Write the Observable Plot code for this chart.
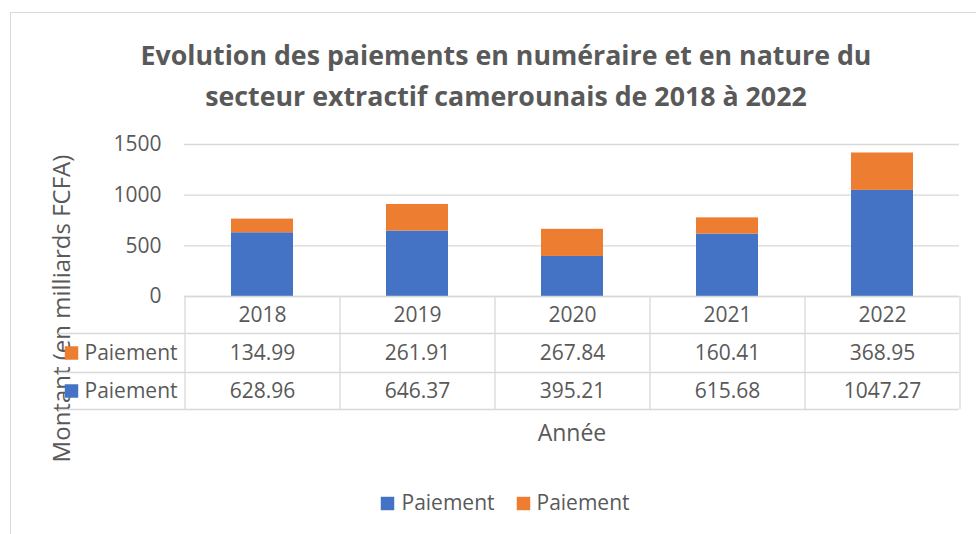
<!DOCTYPE html>
<html><head><meta charset="utf-8">
<script src="https://cdn.jsdelivr.net/npm/d3@7"></script>
<script src="https://cdn.jsdelivr.net/npm/@observablehq/plot@0.6"></script>
<style>
body{margin:0;background:#fff;}
#wrap{position:relative;width:976px;height:534px;overflow:hidden;}
#frame{position:absolute;left:10px;top:12px;width:1100px;height:700px;border-left:1px solid #d9d9d9;border-top:1px solid #d9d9d9;}
#chart{position:absolute;left:0;top:0;}
</style></head><body>
<div id="wrap"><div id="frame"></div><div id="chart"></div></div>
<script>
const years = ["2018", "2019", "2020", "2021", "2022"];
const numeraire = [628.96, 646.37, 395.21, 615.68, 1047.27];
const nature = [134.99, 261.91, 267.84, 160.41, 368.95];
const seriesKeys = ["numeraire", "nature"];
const seriesLabels = ["Paiement", "Paiement"];
const seriesColors = ["#4472C4", "#ED7D31"];
const yTicks = [0, 500, 1000, 1500];
const title = "Evolution des paiements en numéraire et en nature du\nsecteur extractif camerounais de 2018 à 2022";
const yLabel = "Montant (en milliards FCFA)";
const xLabel = "Année";

const data = [
  ...years.map((year, i) => ({year, series: "numeraire", value: numeraire[i]})),
  ...years.map((year, i) => ({year, series: "nature", value: nature[i]}))
];

const grid = "#d9d9d9";
const txt = "#595959";
// table rows: orange (nature) first, then blue (numeraire)
const tableRows = [
  {key: "nature", values: nature, dy: 56.5},
  {key: "numeraire", values: numeraire, dy: 94.5}
];
const legendItems = [
  {key: "numeraire", sq: -184.5, tx: -170.5},
  {key: "nature", sq: -48.5, tx: -35.5}
];
const colorOf = k => seriesColors[seriesKeys.indexOf(k)];
const labelOf = k => seriesLabels[seriesKeys.indexOf(k)];
const line = {stroke: grid, strokeWidth: 1.3};

const plot = Plot.plot({
  width: 976,
  height: 534,
  marginLeft: 184,
  marginRight: 17,
  marginTop: 144,
  marginBottom: 238,
  style: {fontFamily: "'Open Sans', sans-serif", fontSize: "21px", color: txt, background: "transparent", overflow: "visible"},
  x: {domain: years, axis: null, paddingInner: 0.6, paddingOuter: 0.3},
  y: {domain: [0, 1500], axis: null},
  color: {domain: seriesKeys, range: seriesColors},
  marks: [
    Plot.gridY(yTicks, {...line, strokeOpacity: 1}),
    Plot.axisY(yTicks, {tickSize: 0, tickPadding: 23, fontSize: 21, fill: txt, label: null, tickFormat: d => String(d)}),
    Plot.barY(data, {x: "year", y: "value", fill: "series"}),
    // axis titles (drawn beneath the table keys, as in the reference)
    Plot.text([xLabel], {frameAnchor: "bottom", lineAnchor: "middle", dy: 137, fill: txt, fontSize: 23}),
    Plot.text([yLabel], {frameAnchor: "left", textAnchor: "middle", lineAnchor: "middle", rotate: -90, dx: -122, dy: 88, fill: txt, fontSize: 24}),
    // table lines
    Plot.ruleY([0], line),
    Plot.ruleY([0], {...line, insetLeft: -126, dy: 37}),
    Plot.ruleY([0], {...line, insetLeft: -126, dy: 76}),
    Plot.ruleY([0], {...line, insetLeft: -126, dy: 113}),
    Plot.ruleX(years, {x: d => d, dx: -77.5, ...line, insetTop: 152, insetBottom: -113}),
    Plot.ruleX([years[years.length - 1]], {x: d => d, dx: 77.5, ...line, insetTop: 152, insetBottom: -113}),
    // header row
    Plot.text(years, {x: d => d, text: d => d, frameAnchor: "bottom", lineAnchor: "middle", dy: 19, fill: txt, fontSize: 21}),
    // value rows
    ...tableRows.map(r => Plot.text(years, {x: d => d, text: (d, i) => r.values[i].toFixed(2), frameAnchor: "bottom", lineAnchor: "middle", dy: r.dy, fill: txt, fontSize: 21})),
    ...tableRows.map(r => Plot.dot([r.key], {frameAnchor: "bottom-left", dx: -113, dy: r.dy, symbol: "square", r: 7.6, fill: colorOf(r.key), stroke: null})),
    ...tableRows.map(r => Plot.text([labelOf(r.key)], {frameAnchor: "bottom-left", dx: -100, dy: r.dy, textAnchor: "start", lineAnchor: "middle", fill: txt, fontSize: 21})),
    // title
    Plot.text([title], {frameAnchor: "top", textAnchor: "middle", lineAnchor: "middle", dx: -66, dy: -72.5, lineHeight: 1.53, fontSize: 26.75, fontWeight: "bold", fill: txt}),
    // legend
    ...legendItems.map(l => Plot.dot([l.key], {frameAnchor: "bottom", dx: l.sq, dy: 207, symbol: "square", r: 7.6, fill: colorOf(l.key), stroke: null})),
    ...legendItems.map(l => Plot.text([labelOf(l.key)], {frameAnchor: "bottom", dx: l.tx, dy: 207, textAnchor: "start", lineAnchor: "middle", fill: txt, fontSize: 21}))
  ]
});
document.getElementById("chart").appendChild(plot);
</script>
</body></html>
